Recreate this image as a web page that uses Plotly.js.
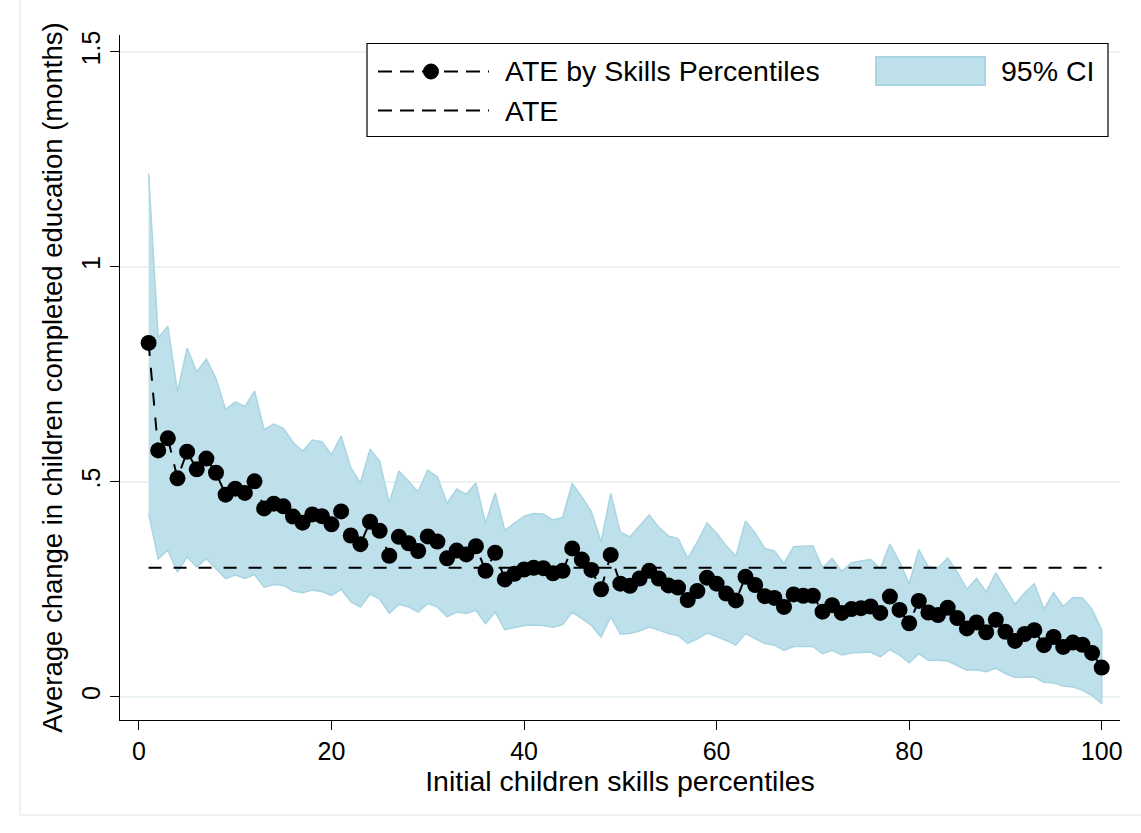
<!DOCTYPE html>
<html>
<head>
<meta charset="utf-8">
<script src="https://cdn.plot.ly/plotly-3.0.1.min.js"></script>
<style>
  html, body { margin: 0; padding: 0; background: #ffffff; }
  #chart { width: 1141px; height: 833px; }
</style>
</head>
<body>
<div id="chart"></div>
<script>
// Percentiles 1..100
const percentiles = Array.from({length: 100}, (_, i) => i + 1);

// ATE by skills percentile (point estimates)
const ateBySkills = [
  0.823, 0.573, 0.601, 0.508, 0.570, 0.529, 0.554, 0.521, 0.470, 0.484,
  0.474, 0.501, 0.438, 0.449, 0.443, 0.419, 0.405, 0.424, 0.420, 0.401,
  0.431, 0.375, 0.355, 0.407, 0.386, 0.328, 0.372, 0.357, 0.339, 0.373,
  0.361, 0.322, 0.340, 0.331, 0.350, 0.293, 0.335, 0.273, 0.286, 0.296,
  0.300, 0.299, 0.287, 0.293, 0.345, 0.319, 0.295, 0.250, 0.330, 0.263,
  0.258, 0.275, 0.293, 0.275, 0.259, 0.254, 0.225, 0.246, 0.277, 0.263,
  0.240, 0.224, 0.279, 0.260, 0.234, 0.230, 0.209, 0.238, 0.235, 0.235,
  0.198, 0.213, 0.195, 0.204, 0.206, 0.210, 0.195, 0.233, 0.202, 0.171,
  0.223, 0.196, 0.190, 0.207, 0.183, 0.159, 0.173, 0.150, 0.179, 0.151,
  0.130, 0.146, 0.155, 0.120, 0.139, 0.116, 0.126, 0.121, 0.102, 0.068
];

// Upper bound of 95% CI
const ciUpper = [
  1.217, 0.835, 0.862, 0.709, 0.811, 0.756, 0.785, 0.740, 0.668, 0.686,
  0.675, 0.711, 0.621, 0.634, 0.624, 0.592, 0.571, 0.597, 0.593, 0.563,
  0.606, 0.533, 0.497, 0.576, 0.548, 0.450, 0.525, 0.502, 0.477, 0.527,
  0.511, 0.450, 0.483, 0.471, 0.497, 0.403, 0.474, 0.387, 0.403, 0.420,
  0.426, 0.425, 0.411, 0.417, 0.496, 0.465, 0.430, 0.360, 0.473, 0.383,
  0.372, 0.397, 0.423, 0.394, 0.374, 0.368, 0.322, 0.360, 0.404, 0.381,
  0.351, 0.327, 0.409, 0.381, 0.345, 0.339, 0.310, 0.349, 0.350, 0.351,
  0.300, 0.322, 0.291, 0.312, 0.316, 0.319, 0.298, 0.355, 0.314, 0.263,
  0.342, 0.302, 0.300, 0.323, 0.290, 0.250, 0.275, 0.244, 0.288, 0.250,
  0.215, 0.242, 0.263, 0.204, 0.242, 0.210, 0.231, 0.230, 0.203, 0.155
];

// Lower bound of 95% CI
const ciLower = [
  0.426, 0.321, 0.341, 0.290, 0.325, 0.302, 0.321, 0.298, 0.275, 0.283,
  0.275, 0.284, 0.255, 0.261, 0.259, 0.246, 0.242, 0.248, 0.245, 0.236,
  0.250, 0.221, 0.209, 0.239, 0.227, 0.194, 0.215, 0.209, 0.197, 0.217,
  0.209, 0.186, 0.197, 0.194, 0.201, 0.170, 0.197, 0.156, 0.161, 0.166,
  0.167, 0.166, 0.162, 0.168, 0.197, 0.182, 0.166, 0.139, 0.186, 0.146,
  0.147, 0.153, 0.162, 0.155, 0.147, 0.142, 0.124, 0.135, 0.148, 0.140,
  0.131, 0.120, 0.147, 0.136, 0.124, 0.120, 0.108, 0.117, 0.117, 0.117,
  0.100, 0.108, 0.097, 0.102, 0.103, 0.104, 0.093, 0.110, 0.097, 0.079,
  0.100, 0.085, 0.085, 0.083, 0.072, 0.062, 0.063, 0.058, 0.066, 0.054,
  0.045, 0.046, 0.046, 0.034, 0.032, 0.025, 0.023, 0.015, 0.003, -0.016
];

// Overall average treatment effect
const ateOverall = 0.30;

const xTickVals = [0, 20, 40, 60, 80, 100];
const xTickText = ['0', '20', '40', '60', '80', '100'];
const yTickVals = [0, 0.5, 1, 1.5];
const yTickText = ['0', '.5', '1', '1.5'];

const legendLabels = ['ATE by Skills Percentiles', 'ATE', '95% CI'];

const FONT = 'Liberation Sans, Arial, Helvetica, sans-serif';
const CI_FILL = '#bee0ea';
const CI_LINE = '#a9d5e2';

const ciPolyX = percentiles.concat(percentiles.slice().reverse());
const ciPolyY = ciUpper.concat(ciLower.slice().reverse());

const traces = [
  {
    x: ciPolyX, y: ciPolyY,
    type: 'scatter', mode: 'lines',
    fill: 'toself', fillcolor: CI_FILL,
    line: {color: CI_LINE, width: 1.5},
    name: legendLabels[2], showlegend: false,
    hoverinfo: 'skip'
  },
  {
    x: percentiles, y: percentiles.map(() => ateOverall),
    type: 'scatter', mode: 'lines',
    line: {color: '#000000', width: 2, dash: '13px,12px'},
    name: legendLabels[1], showlegend: false
  },
  {
    x: percentiles, y: ateBySkills,
    type: 'scatter', mode: 'lines+markers',
    line: {color: '#000000', width: 2, dash: '13px,12px'},
    marker: {color: '#000000', size: 16, symbol: 'circle'},
    name: legendLabels[0], showlegend: false
  }
];

// ---- custom legend (paper coordinates; plot area is 1000 x 685 px) ----
const PL = 120, PT = 35, PW = 1000, PH = 685;
const px = v => (v - PL) / PW;
const py = v => (PT + PH - v) / PH;

const row1 = 71.5, row2 = 110.5;
const LEG_DASH = '14px,8px';
const legendShapes = [
  {type: 'rect', xref: 'paper', yref: 'paper', layer: 'above',
   x0: px(367), x1: px(1108), y0: py(136.5), y1: py(43.5),
   fillcolor: '#ffffff', line: {color: '#000000', width: 1.2}},
  {type: 'line', xref: 'paper', yref: 'paper', layer: 'above',
   x0: px(378), x1: px(489), y0: py(row1), y1: py(row1),
   line: {color: '#000000', width: 2, dash: LEG_DASH}},
  {type: 'circle', xref: 'paper', yref: 'paper', layer: 'above',
   x0: px(431 - 7.5), x1: px(431 + 7.5), y0: py(row1 + 7.5), y1: py(row1 - 7.5),
   fillcolor: '#000000', line: {color: '#000000', width: 1}},
  {type: 'line', xref: 'paper', yref: 'paper', layer: 'above',
   x0: px(378), x1: px(489), y0: py(row2), y1: py(row2),
   line: {color: '#000000', width: 2, dash: LEG_DASH}},
  {type: 'rect', xref: 'paper', yref: 'paper', layer: 'above',
   x0: px(876), x1: px(985), y0: py(85), y1: py(57),
   fillcolor: CI_FILL, line: {color: CI_LINE, width: 2}}
];

const legendAnnotations = [
  {text: legendLabels[0], x: px(503), y: py(row1)},
  {text: legendLabels[1], x: px(503), y: py(row2)},
  {text: legendLabels[2], x: px(999), y: py(row1)}
].map(a => Object.assign(a, {
  xref: 'paper', yref: 'paper', xanchor: 'left', yanchor: 'middle',
  showarrow: false, font: {family: FONT, size: 28.5, color: '#000000'}
}));

const layout = {
  width: 1141, height: 833,
  paper_bgcolor: '#ffffff', plot_bgcolor: '#ffffff',
  font: {family: FONT, size: 25, color: '#000000'},
  margin: {l: PL, r: 1141 - PL - PW, t: PT, b: 833 - PT - PH, pad: 0},
  showlegend: false,
  xaxis: {
    range: [-1.97, 101.9],
    tickvals: xTickVals, ticktext: xTickText,
    ticks: 'outside', ticklen: 9, tickwidth: 1, tickcolor: '#000000',
    showline: true, linecolor: '#000000', linewidth: 1,
    showgrid: false, zeroline: false,
    tickfont: {family: FONT, size: 25, color: '#000000'},
    title: {text: 'Initial children skills percentiles', font: {family: FONT, size: 28.5, color: '#000000'}, standoff: 4}
  },
  yaxis: {
    range: [-0.054, 1.539],
    tickvals: yTickVals, ticktext: yTickText,
    tickangle: -90,
    ticks: 'outside', ticklen: 9, tickwidth: 1, tickcolor: '#000000',
    showline: true, linecolor: '#000000', linewidth: 1,
    showgrid: true, gridcolor: '#eaf2f3', gridwidth: 2,
    zeroline: false,
    tickfont: {family: FONT, size: 25, color: '#000000'},
    title: {text: 'Average change in children completed education (months)', font: {family: FONT, size: 27.5, color: '#000000'}, standoff: 6}
  },
  shapes: [
    {type: 'line', xref: 'paper', yref: 'paper', x0: px(20), x1: px(20), y0: py(815), y1: 1.2,
     line: {color: '#e6eef0', width: 1.5}},
    {type: 'line', xref: 'paper', yref: 'paper', x0: px(20), x1: 1.2, y0: py(815), y1: py(815),
     line: {color: '#e6eef0', width: 1.5}}
  ].concat(legendShapes),
  annotations: legendAnnotations
};

Plotly.newPlot('chart', traces, layout, {displayModeBar: false, staticPlot: true});
</script>
</body>
</html>
